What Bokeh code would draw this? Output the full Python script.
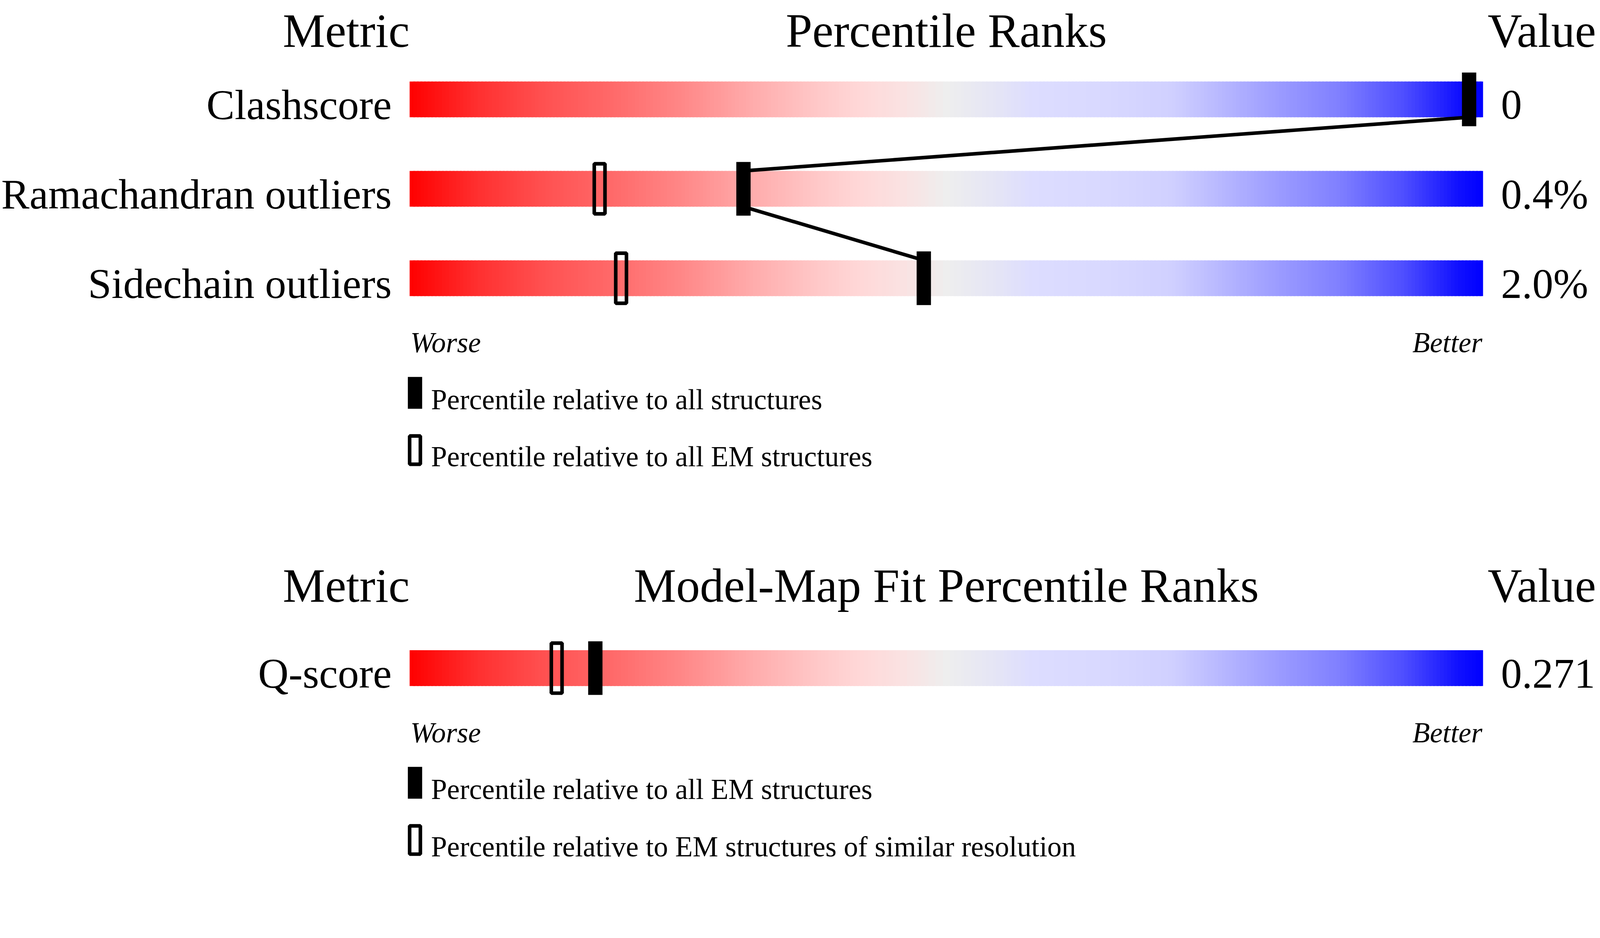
import numpy as np
from bokeh.plotting import figure
from bokeh.models import Range1d, ColumnDataSource
from bokeh.core.properties import value
from bokeh.embed import file_html
from bokeh.resources import INLINE

# ---------------- data ----------------
quality_metrics = ["Clashscore", "Ramachandran outliers", "Sidechain outliers"]
quality_values = ["0", "0.4%", "2.0%"]
quality_pct_all = [98.7, 31.1, 47.9]        # percentile relative to all structures
quality_pct_em = [None, 17.7, 19.7]         # percentile relative to all EM structures

fit_metrics = ["Q-score"]
fit_values = ["0.271"]
fit_pct_all_em = [17.3]                     # relative to all EM structures
fit_pct_similar = [13.7]                    # relative to EM structures of similar resolution

panel_titles = ["Percentile Ranks", "Model-Map Fit Percentile Ranks"]
header_left = "Metric"
header_right = "Value"
scale_ends = ["Worse", "Better"]
legend_top = ["Percentile relative to all structures",
              "Percentile relative to all EM structures"]
legend_bottom = ["Percentile relative to all EM structures",
                 "Percentile relative to EM structures of similar resolution"]

# ---------------- layout / style ----------------
FONT = "Liberation Serif"
S = 0.916                      # css px per reference px
W = 4090
H = 2300
OFF = 8
BAR_X0 = 1153                  # reference px of percentile 0
PX_PER_PCT = 30.0              # reference px per percentile
BAR_H = 100
MARK_W, MARK_H = 40, 150
LEG_H = 89
K_BASE = 0.37                  # baseline correction (fraction of font size)
K_CONST = 9                    # baseline correction (reference px)


def sp(v):
    return v * S


grad_stops = [0.0, 0.064, 0.128, 0.19, 0.255, 0.32, 0.38, 0.42, 0.46, 0.50,
              0.55, 0.58, 0.65, 0.71, 0.74, 0.80, 0.865, 0.926, 0.977, 1.0]
grad_rgb = [(255, 0, 0), (255, 48, 48), (255, 82, 82), (255, 106, 106), (255, 136, 136),
            (255, 172, 172), (255, 200, 200), (255, 216, 216), (250, 226, 226), (238, 238, 238),
            (228, 228, 246), (221, 221, 255), (216, 216, 255), (208, 208, 255), (192, 192, 255),
            (160, 160, 255), (128, 128, 255), (78, 78, 255), (16, 16, 255), (0, 0, 255)]

x0 = (OFF / S - BAR_X0) / PX_PER_PCT
x1 = ((OFF + W) / S - BAR_X0) / PX_PER_PCT

p = figure(width=W, height=H, output_backend="svg", toolbar_location=None,
           x_range=Range1d(x0, x1), y_range=Range1d((OFF + H) / S, OFF / S),
           x_axis_location=None, y_axis_location=None, min_border=0,
           outline_line_color=None, background_fill_color="white",
           border_fill_color="white")
p.xgrid.visible = False
p.ygrid.visible = False

N = 300
edges = np.linspace(0, 100, N + 1)
mids = (edges[:-1] + edges[1:]) / 200.0
stops = np.array(grad_stops)
rgb = np.array(grad_rgb, dtype=float)
cols = []
for t in mids:
    r = np.interp(t, stops, rgb[:, 0]); g = np.interp(t, stops, rgb[:, 1]); b = np.interp(t, stops, rgb[:, 2])
    cols.append("#%02x%02x%02x" % (int(round(r)), int(round(g)), int(round(b))))
rights = edges[1:].copy()
rights[:-1] += 0.2


def text(xs, bases, texts, size, align, xoff=0, style="normal"):
    ys = [b - K_BASE * size + K_CONST for b in bases]
    src = ColumnDataSource(dict(x=xs, y=ys, t=texts))
    p.text(x="x", y="y", text="t", source=src, text_align=align,
           text_baseline="alphabetic", x_offset=sp(xoff),
           text_font=value(FONT), text_font_size="%.1fpx" % sp(size),
           text_font_style=style, text_color="black")


def panel(metrics, values, pct_filled, pct_hollow, bar_tops, title, legend_labels, header_base):
    bottoms = [t + BAR_H for t in bar_tops]
    centers = [t + BAR_H / 2 for t in bar_tops]
    # gradient bars
    for t in bar_tops:
        p.quad(left=edges[:-1], right=rights, top=[t] * N, bottom=[t + BAR_H] * N,
               fill_color=cols, line_color=None)
    # connecting lines between filled markers
    if len(pct_filled) > 1:
        p.segment(x0=pct_filled[:-1], y0=bottoms[:-1], x1=pct_filled[1:], y1=bar_tops[1:],
                  line_color="black", line_width=sp(10))
    # hollow markers
    hx = [v for v in pct_hollow if v is not None]
    hy = [c for v, c in zip(pct_hollow, centers) if v is not None]
    p.rect(x=hx, y=hy, width=sp(MARK_W - 10), height=sp(MARK_H - 10), width_units="screen",
           height_units="screen", fill_alpha=0, line_color="black", line_width=sp(10))
    # filled markers
    p.rect(x=pct_filled, y=centers, width=sp(MARK_W), height=sp(MARK_H), width_units="screen",
           height_units="screen", fill_color="black", line_color=None)
    # headers
    text([0], [header_base], [header_left], 133, "right")
    text([50], [header_base], [title], 133, "center")
    text([x1], [header_base], [header_right], 133, "right", xoff=-5)
    # row labels and values
    text([0] * len(metrics), bottoms, metrics, 118, "right", xoff=-50)
    text([100] * len(values), bottoms, values, 117, "left", xoff=50)
    # worse / better
    wb = bottoms[-1] + 151
    text([0], [wb], [scale_ends[0]], 80, "left", xoff=2, style="italic")
    text([100], [wb], [scale_ends[1]], 80, "right", xoff=-2, style="italic")
    # legend
    lx = 15 / PX_PER_PCT
    p.rect(x=[lx], y=[bottoms[-1] + 226 + LEG_H / 2], width=sp(MARK_W), height=sp(LEG_H),
           width_units="screen", height_units="screen", fill_color="black", line_color=None)
    p.rect(x=[lx], y=[bottoms[-1] + 386 + LEG_H / 2], width=sp(MARK_W - 10), height=sp(LEG_H - 10),
           width_units="screen", height_units="screen", fill_alpha=0,
           line_color="black", line_width=sp(10))
    text([0, 0], [bottoms[-1] + 310, bottoms[-1] + 470], legend_labels, 80, "left", xoff=60)


panel(quality_metrics, quality_values, quality_pct_all, quality_pct_em,
      [236, 486, 736], panel_titles[0], legend_top, 134)
panel(fit_metrics, fit_values, fit_pct_all_em, fit_pct_similar,
      [1826], panel_titles[1], legend_bottom, 1685)

open("out.html", "w").write(file_html(p, INLINE))
